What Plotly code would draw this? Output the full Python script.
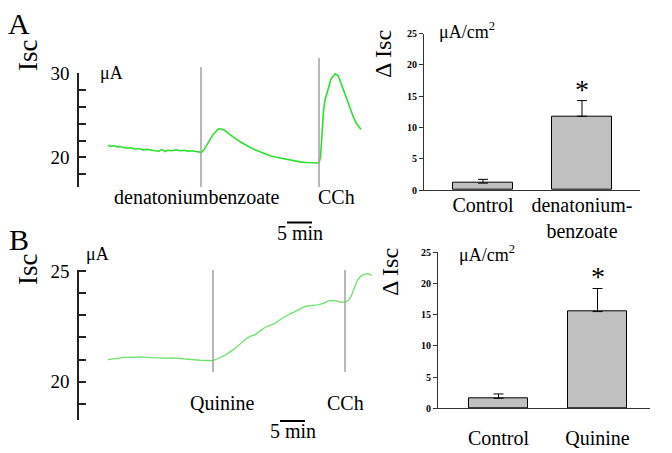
import plotly.graph_objects as go

W, H = 672, 453
OFF = 8  # page body margin of the rendered html
SERIF = "Liberation Serif"


def px(x):
    return (x - OFF) / W


def py(y):
    return 1 - (y - OFF) / H


# ---------------- data ----------------
# Panel A trace (time in min, Isc in uA)
time_a = [0.0, 0.5, 1.2, 1.8, 2.4, 3.0, 3.8, 4.6, 5.4, 6.2, 7.0, 7.8, 8.6, 9.4, 10.2,
          10.8, 11.4, 12.0, 12.8, 13.6, 14.4, 15.2, 16.0, 16.8, 17.6, 18.4, 18.7,
          19.2, 19.8, 20.4, 21.0, 21.6, 22.2, 22.8, 23.4, 24.2, 25.0, 25.8, 26.6,
          27.4, 28.4, 29.4, 30.4, 31.4, 32.4, 33.4, 34.6, 35.8, 37.0, 38.4, 39.6,
          40.8, 41.6, 42.2, 42.5, 42.8, 43.1, 43.4, 44.0, 44.6, 45.4, 46.0, 46.6,
          47.2, 47.8, 48.4, 49.0, 49.6, 50.2, 50.6]
isc_a = [21.45, 21.3, 21.4, 21.25, 21.3, 21.18, 21.1, 21.15, 21.0, 21.05, 20.9, 20.95,
         20.85, 20.8, 20.75, 20.95, 20.7, 20.85, 20.8, 20.9, 20.8, 20.85, 20.75, 20.8,
         20.7, 20.65, 20.6, 20.9, 21.5, 22.1, 22.7, 23.1, 23.4, 23.35, 23.2, 22.8,
         22.4, 22.1, 21.8, 21.5, 21.2, 20.9, 20.65, 20.4, 20.2, 20.05, 19.9, 19.75,
         19.6, 19.48, 19.4, 19.35, 19.4, 19.35, 20.0, 23.5, 25.5, 26.8, 28.2, 29.3,
         29.9, 29.7, 28.8, 27.8, 26.8, 25.8, 24.9, 24.1, 23.6, 23.3]
events_a = [18.6, 42.2]
event_labels_a = ["denatoniumbenzoate", "CCh"]
labels_a = [20, 30]
ticks_a = [18, 20, 22, 24, 26, 28, 30]

# Panel B trace
time_b = [0.0, 1.6, 3.2, 4.8, 6.4, 8.0, 9.6, 11.2, 12.8, 14.4, 15.6, 16.8, 18.4, 19.8,
          21.0, 22.0, 23.4, 24.4, 25.4, 26.4, 27.4, 28.4, 29.4, 30.4, 31.4, 32.4,
          33.4, 34.4, 35.4, 36.4, 37.4, 38.4, 39.4, 40.8, 42.0, 43.2, 44.4, 45.6,
          46.6, 47.4, 48.0, 48.6, 49.2, 49.8, 50.4, 51.2, 52.0, 52.8]
isc_b = [21.0, 21.05, 21.1, 21.1, 21.12, 21.1, 21.08, 21.07, 21.08, 21.05, 21.0, 21.0,
         20.97, 20.96, 20.95, 21.05, 21.2, 21.35, 21.5, 21.7, 21.9, 22.05, 22.12, 22.3,
         22.45, 22.55, 22.64, 22.8, 22.94, 23.07, 23.17, 23.3, 23.4, 23.45, 23.47,
         23.55, 23.67, 23.65, 23.6, 23.6, 23.65, 23.85, 24.25, 24.55, 24.73, 24.85,
         24.88, 24.8]
events_b = [21.0, 47.4]
event_labels_b = ["Quinine", "CCh"]
labels_b = [20, 25]
ticks_b = [19, 20, 21, 22, 23, 24, 25]

scale_bar_len = 5  # min
scale_start_a = 35.8
scale_start_b = 34.4

# Bar charts (delta Isc, uA/cm2)
bar_cats_a = ["Control", "denatonium-<br>benzoate"]
bar_vals_a = [1.1, 11.8]
bar_err_a = [0.6, 2.5]
bar_cats_b = ["Control", "Quinine"]
bar_vals_b = [1.6, 15.5]
bar_err_b = [0.7, 3.7]
sig_marks = ["", "*"]
bar_ticks = [0, 5, 10, 15, 20, 25]

# ---------------- figure ----------------
fig = go.Figure()

fig.add_trace(go.Scatter(x=time_a, y=isc_a, mode="lines",
                         line=dict(color="#2ee02e", width=1.6),
                         xaxis="x", yaxis="y", showlegend=False))
fig.add_trace(go.Scatter(x=time_b, y=isc_b, mode="lines",
                         line=dict(color="#6ee06e", width=1.3),
                         xaxis="x3", yaxis="y3", showlegend=False))

bar_style = dict(marker=dict(color="#c0c0c0", line=dict(color="black", width=1)),
                 showlegend=False)
fig.add_trace(go.Bar(x=[0, 1], y=bar_vals_a, width=0.6,
                     error_y=dict(type="data", array=bar_err_a, arrayminus=[0, 0],
                                  symmetric=False, color="black", thickness=1, width=5),
                     xaxis="x2", yaxis="y2", **bar_style))
fig.add_trace(go.Bar(x=[0, 1], y=bar_vals_b, width=0.6,
                     error_y=dict(type="data", array=bar_err_b, arrayminus=[0, 0],
                                  symmetric=False, color="black", thickness=1, width=5),
                     xaxis="x4", yaxis="y4", **bar_style))

trace_y_common = dict(showline=True, linecolor="#222", linewidth=1.5, ticks="inside",
                      ticklen=7, tickcolor="#222", tickwidth=1.5, showgrid=False,
                      zeroline=False, automargin=False,
                      tickfont=dict(family=SERIF, size=19, color="black"),
                      ticklabelstandoff=4)
bar_y_common = dict(showline=True, linecolor="#333", linewidth=1.2, ticks="outside",
                    ticklen=4, tickcolor="#333", showgrid=False, zeroline=False,
                    range=[0, 25], tickvals=bar_ticks, automargin=False,
                    tickfont=dict(family=SERIF, size=10, color="black", weight="bold"))
bar_x_common = dict(showline=True, linecolor="#333", linewidth=1.2, ticks="",
                    showgrid=False, zeroline=False, tickvals=[0, 1], automargin=False,
                    tickfont=dict(family=SERIF, size=20, color="black"))

fig.update_layout(
    width=W, height=H, margin=dict(l=0, r=0, t=0, b=0, autoexpand=False),
    paper_bgcolor="white", plot_bgcolor="white",
    xaxis=dict(domain=[px(79), px(372)], range=[-5.8, 52.8], visible=False, anchor="y",
               automargin=False),
    yaxis=dict(domain=[py(187), py(73)], range=[16.5, 30], tickvals=labels_a,
               minor=dict(tickvals=ticks_a, ticks="inside", ticklen=7, tickcolor="#222",
                          tickwidth=1.5),
               anchor="x", **trace_y_common),
    xaxis3=dict(domain=[px(79), px(376)], range=[-5.8, 53.6], visible=False, anchor="y3",
                automargin=False),
    yaxis3=dict(domain=[py(420), py(270)], range=[18.27, 25.05], tickvals=labels_b,
                minor=dict(tickvals=ticks_b, ticks="inside", ticklen=7, tickcolor="#222",
                           tickwidth=1.5),
                anchor="x3", **trace_y_common),
    xaxis2=dict(domain=[px(424), px(640)], range=[-0.596, 1.586], ticktext=bar_cats_a,
                anchor="y2", ticklabelstandoff=-3, **bar_x_common),
    yaxis2=dict(domain=[py(190), py(33.7)], anchor="x2", **bar_y_common),
    xaxis4=dict(domain=[px(438), px(650)], range=[-0.611, 1.53], ticktext=bar_cats_b,
                anchor="y4", ticklabelstandoff=12, **bar_x_common),
    yaxis4=dict(domain=[py(408.3), py(252.3)], anchor="x4", **bar_y_common),
    bargap=0,
)

shapes = []
# event lines
for ev, top in zip(events_a, [67, 58]):
    shapes.append(dict(type="line", xref="x", yref="paper", x0=ev, x1=ev,
                       y0=py(187), y1=py(top), line=dict(color="#a0a0a0", width=1.5)))
for ev in events_b:
    shapes.append(dict(type="line", xref="x3", yref="paper", x0=ev, x1=ev,
                       y0=py(372), y1=py(270), line=dict(color="#a0a0a0", width=1.5)))
# scale bars
shapes.append(dict(type="line", xref="x", yref="paper", x0=scale_start_a,
                   x1=scale_start_a + scale_bar_len, y0=py(222.5), y1=py(222.5),
                   line=dict(color="black", width=2)))
shapes.append(dict(type="line", xref="x3", yref="paper", x0=scale_start_b,
                   x1=scale_start_b + scale_bar_len, y0=py(421), y1=py(421),
                   line=dict(color="black", width=2)))
fig.update_layout(shapes=shapes)

ann = []


def text(x, y, s, size=20, xref="paper", yref="paper", **kw):
    d = dict(x=x, y=y, xref=xref, yref=yref, text=s, showarrow=False,
             xanchor="center", yanchor="middle",
             font=dict(family=SERIF, size=size, color="black"))
    d.update(kw)
    ann.append(d)


# panel letters
text(px(19), py(24), "A", size=30)
text(px(19), py(239), "B", size=30)
# Isc labels
text(px(28), py(56), "Isc", size=27, textangle=-90)
text(px(28), py(270), "Isc", size=27, textangle=-90)
text(px(111), py(73), "\u03bcA", size=18)
text(px(97), py(254), "\u03bcA", size=18)
# bar chart titles
text(px(383), py(54), "\u0394 Isc", size=24, textangle=-90)
text(px(390), py(272), "\u0394 Isc", size=24, textangle=-90)
text(px(467), py(30), "\u03bcA/cm<sup>2</sup>", size=18)
text(px(487), py(253), "\u03bcA/cm<sup>2</sup>", size=18)

# event labels
text(events_a[0], py(197), event_labels_a[0], xref="x", xshift=-4)
text(events_a[1], py(197), event_labels_a[1], xref="x", xanchor="left", xshift=-3)
text(events_b[0], py(403), event_labels_b[0], xref="x3", xshift=9)
text(events_b[1], py(403), event_labels_b[1], xref="x3")
# scale bar labels
text(scale_start_a + scale_bar_len / 2, py(233), f"{scale_bar_len} min", xref="x")
text(scale_start_b + scale_bar_len / 2, py(431), f"{scale_bar_len} min", xref="x3")

# significance stars
for i, m in enumerate(sig_marks):
    if m:
        text(i, bar_vals_a[i] + bar_err_a[i], m, size=28, xref="x2", yref="y2",
             yanchor="bottom", yshift=-6)
        text(i, bar_vals_b[i] + bar_err_b[i], m, size=28, xref="x4", yref="y4",
             yanchor="bottom", yshift=-6)

fig.update_layout(annotations=ann)
fig.write_html("out.html")
